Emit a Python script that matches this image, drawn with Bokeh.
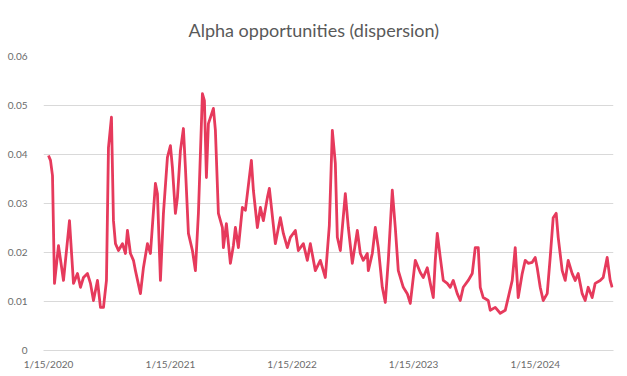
from datetime import datetime
import pandas as pd
from bokeh.plotting import figure
from bokeh.models import (ColumnDataSource, Range1d, FixedTicker, CustomJSTickFormatter, Title)
from bokeh.embed import file_html
from bokeh.resources import INLINE

title_text = "Alpha opportunities (dispersion)"

dates = [
    "2020-01-15", "2020-01-21", "2020-01-27", "2020-02-02", "2020-02-14", "2020-02-29",
    "2020-03-18", "2020-03-30", "2020-04-11", "2020-04-20", "2020-04-29", "2020-05-11",
    "2020-05-20", "2020-05-29", "2020-06-10", "2020-06-19", "2020-06-28", "2020-07-07",
    "2020-07-13", "2020-07-22", "2020-07-28", "2020-08-03", "2020-08-12", "2020-08-24",
    "2020-09-02", "2020-09-08", "2020-09-17", "2020-09-26", "2020-10-02", "2020-10-17",
    "2020-10-26", "2020-11-07", "2020-11-16", "2020-12-01", "2020-12-07", "2020-12-16",
    "2020-12-25", "2021-01-06", "2021-01-15", "2021-01-21", "2021-01-30", "2021-02-05",
    "2021-02-14", "2021-02-23", "2021-03-01", "2021-03-10", "2021-03-22", "2021-03-31",
    "2021-04-09", "2021-04-21", "2021-04-27", "2021-05-03", "2021-05-09", "2021-05-24",
    "2021-05-30", "2021-06-08", "2021-06-20", "2021-06-23", "2021-07-02", "2021-07-14",
    "2021-07-23", "2021-07-29", "2021-08-07", "2021-08-19", "2021-08-28", "2021-09-15",
    "2021-09-21", "2021-10-03", "2021-10-12", "2021-10-21", "2021-11-02", "2021-11-08",
    "2021-11-26", "2021-12-11", "2021-12-20", "2022-01-01", "2022-01-10", "2022-01-25",
    "2022-02-03", "2022-02-18", "2022-03-02", "2022-03-11", "2022-03-26", "2022-04-10",
    "2022-04-25", "2022-05-07", "2022-05-16", "2022-05-25", "2022-05-31", "2022-06-09",
    "2022-06-24", "2022-07-03", "2022-07-15", "2022-07-30", "2022-08-08", "2022-08-17",
    "2022-08-29", "2022-09-01", "2022-09-13", "2022-09-22", "2022-10-01", "2022-10-13",
    "2022-10-22", "2022-10-31", "2022-11-12", "2022-11-21", "2022-11-30", "2022-12-15",
    "2022-12-27", "2023-01-05", "2023-01-20", "2023-02-04", "2023-02-13", "2023-02-25",
    "2023-03-06", "2023-03-15", "2023-03-21", "2023-03-27", "2023-04-05", "2023-04-14",
    "2023-04-26", "2023-05-05", "2023-05-14", "2023-05-26", "2023-06-04", "2023-06-13",
    "2023-06-28", "2023-07-10", "2023-07-19", "2023-07-28", "2023-08-03", "2023-08-12",
    "2023-08-27", "2023-09-02", "2023-09-17", "2023-10-02", "2023-10-17", "2023-10-26",
    "2023-11-07", "2023-11-16", "2023-11-25", "2023-12-07", "2023-12-16", "2023-12-25",
    "2024-01-06", "2024-01-15", "2024-01-21", "2024-01-30", "2024-02-08", "2024-02-20",
    "2024-02-29", "2024-03-09", "2024-03-18", "2024-03-24", "2024-04-05", "2024-04-14",
    "2024-04-23", "2024-05-05", "2024-05-14", "2024-05-23", "2024-06-04", "2024-06-13",
    "2024-06-22", "2024-07-04", "2024-07-13", "2024-07-28", "2024-08-06", "2024-08-18",
    "2024-08-27", "2024-09-02",
]

dispersion = [
    0.0398, 0.0388, 0.0357, 0.0137, 0.0214, 0.0143,
    0.0265, 0.0137, 0.0157, 0.0129, 0.0149, 0.0157,
    0.0137, 0.0102, 0.0143, 0.0088, 0.0088, 0.0143,
    0.0414, 0.0476, 0.0265, 0.0218, 0.0204, 0.0218,
    0.0198, 0.0245, 0.0198, 0.0184, 0.0163, 0.0116,
    0.0169, 0.0218, 0.0198, 0.0341, 0.0320, 0.0143,
    0.0280, 0.0394, 0.0418, 0.0373, 0.0280, 0.0312,
    0.0408, 0.0453, 0.0373, 0.0239, 0.0204, 0.0163,
    0.0280, 0.0524, 0.0510, 0.0353, 0.0463, 0.0494,
    0.0449, 0.0280, 0.0251, 0.0210, 0.0259, 0.0178,
    0.0214, 0.0251, 0.0210, 0.0292, 0.0286, 0.0388,
    0.0327, 0.0251, 0.0292, 0.0265, 0.0312, 0.0331,
    0.0218, 0.0271, 0.0239, 0.0210, 0.0231, 0.0245,
    0.0204, 0.0218, 0.0184, 0.0218, 0.0163, 0.0184,
    0.0149, 0.0255, 0.0449, 0.0382, 0.0231, 0.0204,
    0.0320, 0.0251, 0.0178, 0.0245, 0.0198, 0.0184,
    0.0198, 0.0163, 0.0198, 0.0251, 0.0210, 0.0129,
    0.0098, 0.0184, 0.0327, 0.0251, 0.0163, 0.0129,
    0.0116, 0.0096, 0.0184, 0.0159, 0.0149, 0.0169,
    0.0137, 0.0108, 0.0184, 0.0239, 0.0190, 0.0143,
    0.0137, 0.0129, 0.0143, 0.0116, 0.0102, 0.0129,
    0.0143, 0.0157, 0.0210, 0.0210, 0.0129, 0.0108,
    0.0102, 0.0082, 0.0088, 0.0076, 0.0082, 0.0108,
    0.0143, 0.0210, 0.0108, 0.0157, 0.0184, 0.0178,
    0.0180, 0.0190, 0.0169, 0.0129, 0.0102, 0.0116,
    0.0190, 0.0271, 0.0280, 0.0231, 0.0163, 0.0143,
    0.0184, 0.0157, 0.0143, 0.0157, 0.0116, 0.0102,
    0.0129, 0.0108, 0.0137, 0.0143, 0.0149, 0.0190,
    0.0143, 0.0129,
]

y_ticks = [0.0, 0.01, 0.02, 0.03, 0.04, 0.05, 0.06]
x_tick_dates = ["2020-01-15", "2021-01-15", "2022-01-15", "2023-01-15", "2024-01-15"]

source = ColumnDataSource(data=dict(date=pd.to_datetime(dates), val=dispersion))

p = figure(
    width=627, height=376,
    x_axis_type="datetime",
    x_range=Range1d(datetime(2019, 12, 31), datetime(2024, 9, 6)),
    y_range=Range1d(0, 0.06),
    output_backend="svg", toolbar_location=None,
    min_border_left=43, min_border_right=14, min_border_top=56, min_border_bottom=26,
)
p.outline_line_color = None
p.background_fill_color = "white"
p.border_fill_color = "white"

p.line(x="date", y="val", source=source, line_color="#E63A5C", line_width=2.8,
       line_join="round")

# y axis
p.yaxis.ticker = FixedTicker(ticks=y_ticks)
p.yaxis.major_label_overrides = {0: "0"}
p.yaxis.axis_line_color = None
p.yaxis.major_tick_line_color = None
p.yaxis.minor_tick_line_color = None
p.yaxis.major_label_standoff = 10
p.yaxis.major_label_text_font = "Lato"
p.yaxis.major_label_text_font_size = "10px"
p.yaxis.major_label_text_color = "#6b6b6b"

# x axis
x_ticks_ms = [pd.Timestamp(d).value // 10**6 for d in x_tick_dates]
p.xaxis.ticker = FixedTicker(ticks=x_ticks_ms)
p.xaxis.formatter = CustomJSTickFormatter(code="""
    const d = new Date(tick);
    return (d.getUTCMonth() + 1) + '/' + d.getUTCDate() + '/' + d.getUTCFullYear();
""")
p.xaxis.axis_line_color = "#d9d9d9"
p.xaxis.major_tick_line_color = None
p.xaxis.minor_tick_line_color = None
p.xaxis.major_label_standoff = 1
p.xaxis.major_label_text_font = "Lato"
p.xaxis.major_label_text_font_size = "10px"
p.xaxis.major_label_text_color = "#6b6b6b"

p.xgrid.grid_line_color = None
p.ygrid.grid_line_color = "#d9d9d9"
p.ygrid.grid_line_width = 1

p.title = Title(text=title_text, align="left", offset=145, standoff=31,
                text_font="Lato", text_font_size="18px", text_font_style="normal",
                text_color="#595959")

open("out.html", "w").write(file_html(p, INLINE))
